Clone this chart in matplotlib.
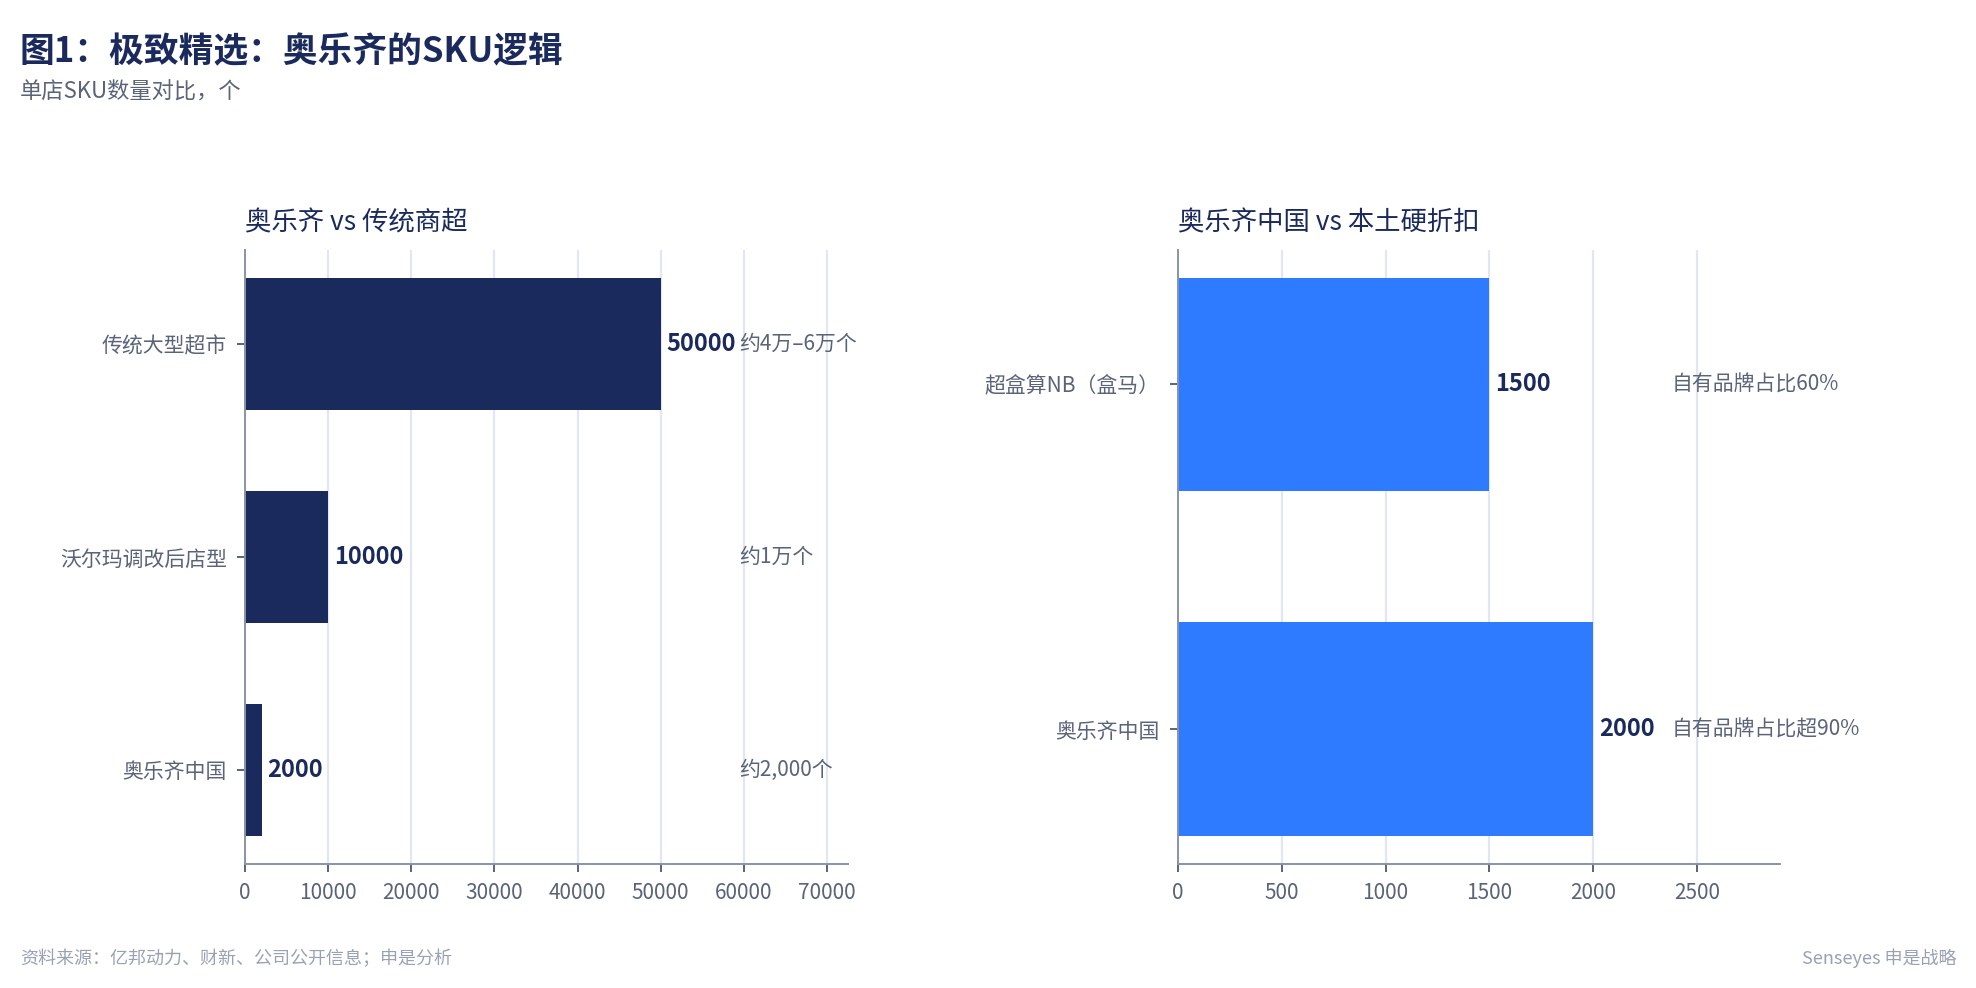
import matplotlib
matplotlib.use("Agg")
import matplotlib.pyplot as plt

plt.rcParams['font.family'] = ['Noto Sans CJK SC', 'DejaVu Sans']

left_cats = ["传统大型超市", "沃尔玛调改后店型", "奥乐齐中国"]
left_vals = [50000, 10000, 2000]
left_notes = ["约4万–6万个", "约1万个", "约2,000个"]
right_cats = ["超盒算NB（盒马）", "奥乐齐中国"]
right_vals = [1500, 2000]
right_notes = ["自有品牌占比60%", "自有品牌占比超90%"]

NAVY = "#1b2a5c"
BLUE = "#2f7bff"
GRAY = "#5a6378"
GRID = "#e3e5f0"
SPINE = "#8a93a8"

fig = plt.figure(figsize=(9.88, 4.94), dpi=200)
fig.text(0.01, 0.965, "图1：极致精选：奥乐齐的SKU逻辑", fontsize=12.5, fontweight="bold", color=NAVY, va="top")
fig.text(0.01, 0.918, "单店SKU数量对比，个", fontsize=8, color=GRAY, va="top")
fig.text(0.01, 0.02, "资料来源：亿邦动力、财新、公司公开信息；申是分析", fontsize=6.5, color="#9aa1b2", va="bottom")
fig.text(0.99, 0.02, "Senseyes 申是战略", fontsize=6.5, color="#9aa1b2", va="bottom", ha="right")

def panel(rect, cats, vals, notes, color, title, ticks, pad):
    ax = fig.add_axes(rect)
    y = list(range(len(cats)))
    ax.barh(y, vals, height=0.62, color=color, zorder=2)
    xmax = max(vals) * 1.45
    ax.set_xlim(0, xmax)
    ax.set_ylim(len(cats) - 1 + pad, -pad)
    ax.set_yticks(y)
    ax.set_yticklabels(cats)
    ax.set_xticks(ticks)
    ax.xaxis.grid(True, color=GRID, lw=0.8, zorder=0)
    for s in ["top", "right"]:
        ax.spines[s].set_visible(False)
    for s in ["left", "bottom"]:
        ax.spines[s].set_color(SPINE)
        ax.spines[s].set_linewidth(0.7)
    ax.tick_params(colors=GRAY, labelsize=7.5, width=0.7, length=3)
    for lab in ax.get_xticklabels() + ax.get_yticklabels():
        lab.set_color(GRAY)
    for yi, v, n in zip(y, vals, notes):
        ax.text(v + xmax * 0.01, yi, str(v), va="center", ha="left", fontsize=8.5,
                fontweight="bold", color=NAVY, zorder=3)
        ax.text(xmax * 0.82, yi, n, va="center", ha="left", fontsize=7.5, color=GRAY, zorder=3)
    ax.set_title(title, loc="left", fontsize=9.5, color=NAVY, pad=7)
    return ax

panel([0.124, 0.126, 0.305, 0.621], left_cats, left_vals, left_notes, NAVY,
      "奥乐齐 vs 传统商超", range(0, 70001, 10000), 0.44)
panel([0.596, 0.126, 0.305, 0.621], right_cats, right_vals, right_notes, BLUE,
      "奥乐齐中国 vs 本土硬折扣", range(0, 2501, 500), 0.39)

fig.savefig("out.png", dpi=200)
